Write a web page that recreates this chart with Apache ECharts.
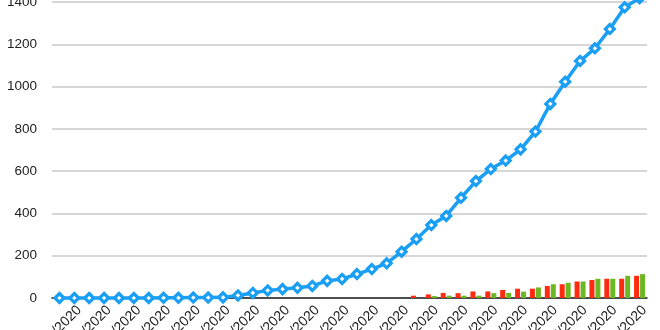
<!DOCTYPE html>
<html>
<head>
<meta charset="utf-8">
<script src="https://cdn.jsdelivr.net/npm/echarts@6/dist/echarts.min.js"></script>
<style>
html,body{margin:0;padding:0;background:#fff;}
#chart{width:660px;height:330px;}
</style>
</head>
<body>
<div id="chart"></div>
<script>
// Categories: 40 daily dates
const categories = [
  "2/1/2020","2/2/2020","2/3/2020","2/4/2020","2/5/2020","2/6/2020","2/7/2020","2/8/2020",
  "2/9/2020","2/10/2020","2/11/2020","2/12/2020","2/13/2020","2/14/2020","2/15/2020","2/16/2020",
  "2/17/2020","2/18/2020","2/19/2020","2/20/2020","2/21/2020","2/22/2020","2/23/2020","2/24/2020",
  "2/25/2020","2/26/2020","2/27/2020","2/28/2020","2/29/2020","3/1/2020","3/2/2020","3/3/2020",
  "3/4/2020","3/5/2020","3/6/2020","3/7/2020","3/8/2020","3/9/2020","3/10/2020","3/11/2020"
];
// Cumulative total (line)
const totalValues = [
  0,0,0,0,0,0,0,1,1,2,2,3,12,24,36,42,48,57,81,90,
  113,137,164,219,279,345,388,474,553,610,650,703,787,918,1023,1121,1181,1272,1375,1418
];
// Red bars
const redValues = [
  null,null,null,null,null,null,null,null,null,null,null,null,null,null,null,null,
  null,null,null,null,null,null,null,null,
  11,17,24,23,31,31,38,44,44,57,65,78,85,91,91,105
];
// Green bars
const greenValues = [
  null,null,null,null,null,null,null,null,null,null,null,null,null,null,null,null,
  null,null,null,null,null,null,null,null,
  0,9,11,11,11,23,24,30,50,65,72,78,91,91,105,113
];
const yTicks = [0,200,400,600,800,1000,1200,1400];

const chart = echarts.init(document.getElementById('chart'), null, {renderer:'canvas'});
chart.setOption({
  animation:false,
  backgroundColor:'#ffffff',
  grid:{left:52,right:13,top:2,bottom:32,containLabel:false,outerBoundsMode:'none'},
  xAxis:{
    type:'category',
    data:categories,
    boundaryGap:true,
    axisLine:{show:true,lineStyle:{color:'#222',width:1.5}},
    axisTick:{show:false},
    axisLabel:{
      rotate:45,
      interval:function(i){return i%2===1;},
      color:'#222',
      fontSize:14,
      fontFamily:'Liberation Sans, Arial, sans-serif',
      margin:5,
      align:'right',
      verticalAlign:'top',
      hideOverlap:false
    },
    splitLine:{show:false}
  },
  yAxis:{
    type:'value',
    min:yTicks[0],
    max:yTicks[yTicks.length-1],
    interval:200,
    axisLine:{show:false},
    axisTick:{show:false},
    axisLabel:{color:'#222',fontSize:13.5,fontFamily:'Liberation Sans, Arial, sans-serif',margin:15,
      formatter:function(v){return String(v);}},
    splitLine:{show:true,lineStyle:{color:'#c8c8c8',width:1.5}}
  },
  series:[
    {
      type:'bar',
      data:redValues,
      barWidth:5,
      barGap:'20%',
      itemStyle:{color:'#ff2a0f'},
      z:2
    },
    {
      type:'bar',
      data:greenValues,
      barWidth:5,
      barGap:'20%',
      itemStyle:{color:'#6cb824'},
      z:2
    },
    {
      type:'line',
      data:totalValues,
      clip:false,
      symbol:'diamond',
      symbolSize:9,
      showAllSymbol:true,
      lineStyle:{color:'#1a9ff5',width:3.5},
      itemStyle:{color:'#ffffff',borderColor:'#1a9ff5',borderWidth:3.2},
      z:5
    }
  ]
});
</script>
</body>
</html>
